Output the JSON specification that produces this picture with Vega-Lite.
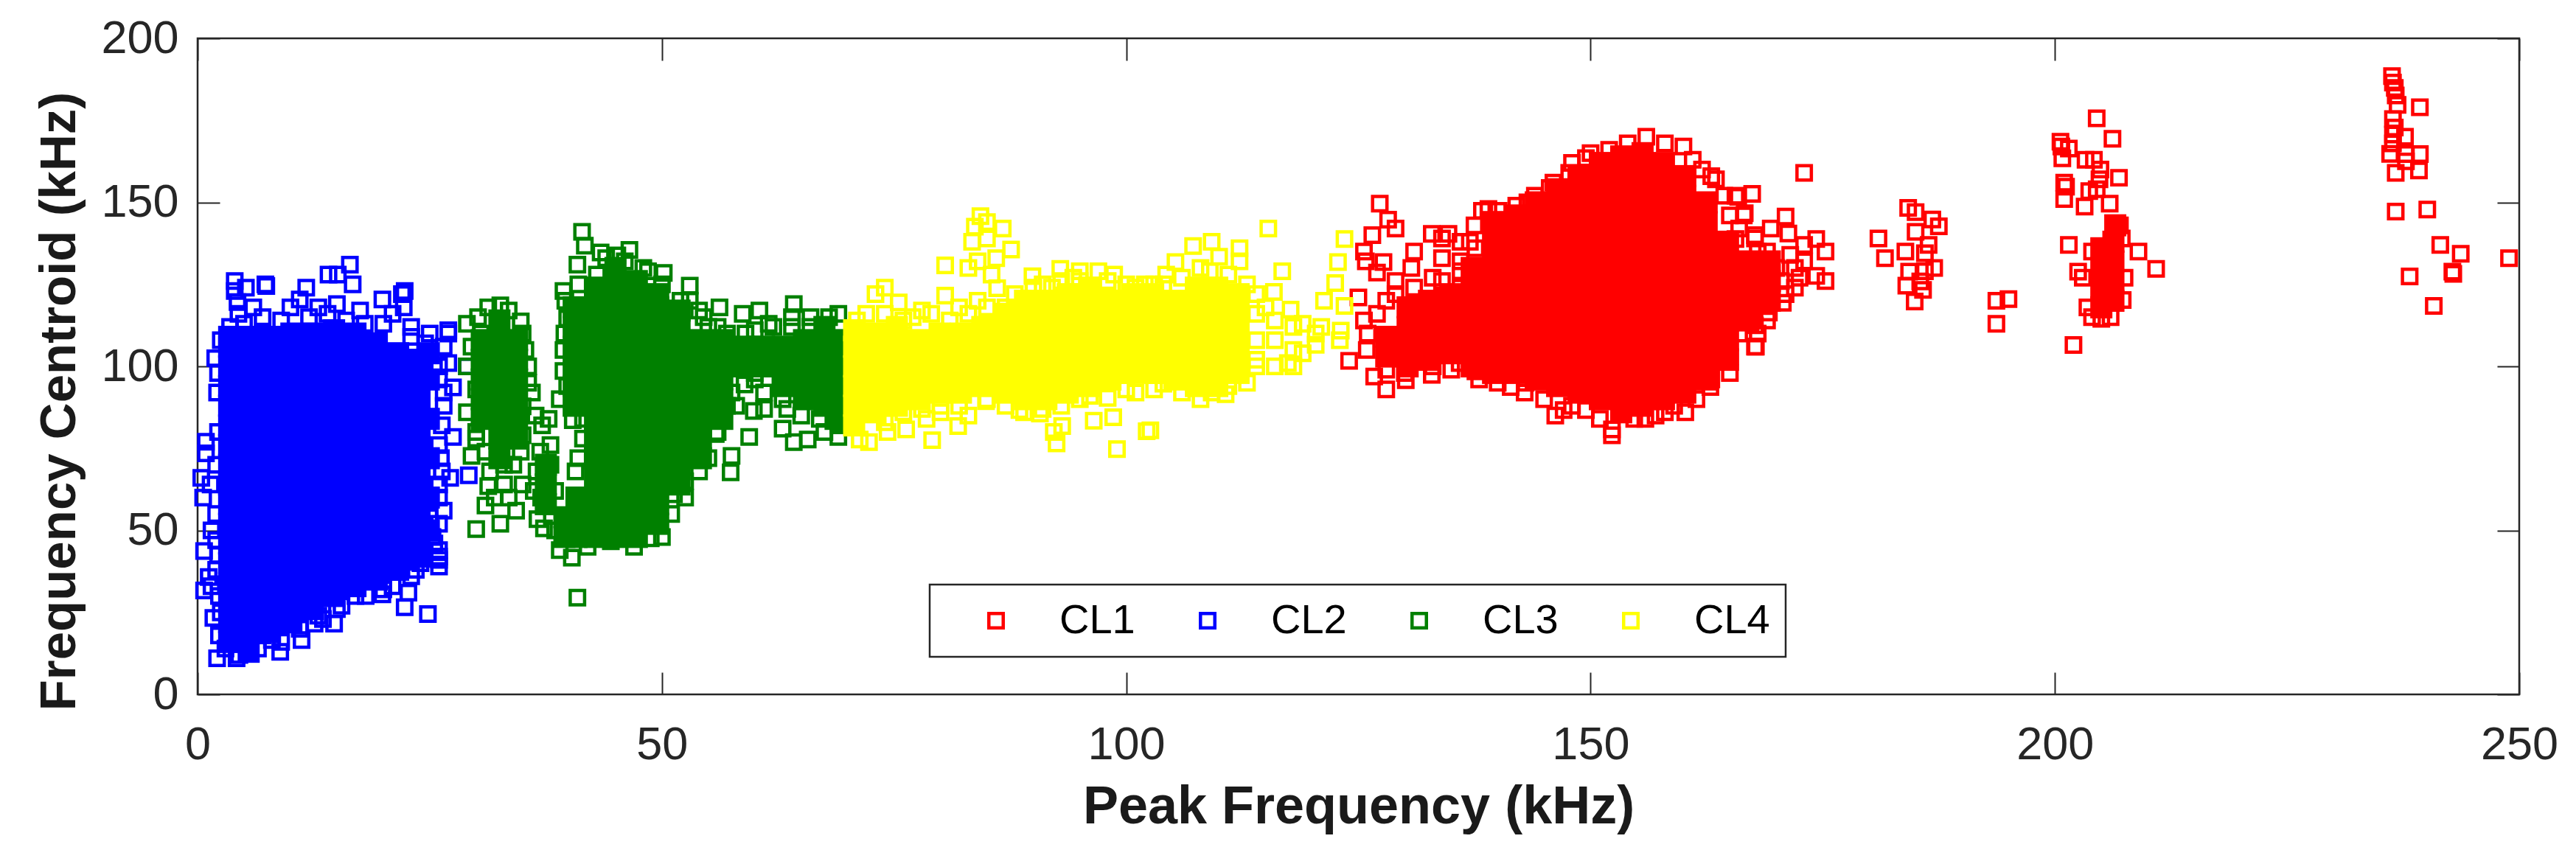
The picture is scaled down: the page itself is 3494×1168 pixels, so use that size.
{"$schema":"https://vega.github.io/schema/vega-lite/v6.json","width":3149,"height":890,"autosize":"none","padding":{"left":268,"top":52,"right":77,"bottom":226},"background":"white","config":{"font":"Liberation Sans","view":{"stroke":"#262626","strokeWidth":2.5},"legend":{"strokeWidth":2.5}},
"datasets":{
"r0":[{"x":128,"y":103},{"x":128,"y":109},{"x":130.3,"y":100},{"x":130.3,"y":106},{"x":130.3,"y":112},{"x":130.3,"y":118},{"x":132.6,"y":102},{"x":132.6,"y":108},{"x":132.6,"y":114},{"x":132.6,"y":120},{"x":134.9,"y":104},{"x":134.9,"y":110},{"x":134.9,"y":116},{"x":134.9,"y":122},{"x":137.2,"y":100},{"x":137.2,"y":106},{"x":137.2,"y":112},{"x":137.2,"y":118},{"x":137.2,"y":124},{"x":137.2,"y":130},{"x":139.5,"y":98},{"x":139.5,"y":104},{"x":139.5,"y":110},{"x":139.5,"y":116},{"x":139.5,"y":122},{"x":139.5,"y":128},{"x":139.5,"y":134},{"x":139.5,"y":140},{"x":139.5,"y":144},{"x":141.8,"y":98},{"x":141.8,"y":104},{"x":141.8,"y":110},{"x":141.8,"y":116},{"x":141.8,"y":122},{"x":141.8,"y":128},{"x":141.8,"y":134},{"x":141.8,"y":140},{"x":141.8,"y":146},{"x":144.1,"y":96},{"x":144.1,"y":102},{"x":144.1,"y":108},{"x":144.1,"y":114},{"x":144.1,"y":120},{"x":144.1,"y":126},{"x":144.1,"y":132},{"x":144.1,"y":138},{"x":144.1,"y":144},{"x":144.1,"y":150},{"x":146.4,"y":94},{"x":146.4,"y":100},{"x":146.4,"y":106},{"x":146.4,"y":112},{"x":146.4,"y":118},{"x":146.4,"y":124},{"x":146.4,"y":130},{"x":146.4,"y":136},{"x":146.4,"y":142},{"x":146.4,"y":148},{"x":146.4,"y":154},{"x":148.7,"y":92},{"x":148.7,"y":98},{"x":148.7,"y":104},{"x":148.7,"y":110},{"x":148.7,"y":116},{"x":148.7,"y":122},{"x":148.7,"y":128},{"x":148.7,"y":134},{"x":148.7,"y":140},{"x":148.7,"y":146},{"x":148.7,"y":152},{"x":148.7,"y":158},{"x":151,"y":90},{"x":151,"y":96},{"x":151,"y":102},{"x":151,"y":108},{"x":151,"y":114},{"x":151,"y":120},{"x":151,"y":126},{"x":151,"y":132},{"x":151,"y":138},{"x":151,"y":144},{"x":151,"y":150},{"x":151,"y":156},{"x":151,"y":162},{"x":153.3,"y":86},{"x":153.3,"y":92},{"x":153.3,"y":98},{"x":153.3,"y":104},{"x":153.3,"y":110},{"x":153.3,"y":116},{"x":153.3,"y":122},{"x":153.3,"y":128},{"x":153.3,"y":134},{"x":153.3,"y":140},{"x":153.3,"y":146},{"x":153.3,"y":152},{"x":153.3,"y":158},{"x":153.3,"y":164},{"x":155.6,"y":88},{"x":155.6,"y":94},{"x":155.6,"y":100},{"x":155.6,"y":106},{"x":155.6,"y":112},{"x":155.6,"y":118},{"x":155.6,"y":124},{"x":155.6,"y":130},{"x":155.6,"y":136},{"x":155.6,"y":142},{"x":155.6,"y":148},{"x":155.6,"y":154},{"x":155.6,"y":160},{"x":155.6,"y":165},{"x":157.9,"y":90},{"x":157.9,"y":96},{"x":157.9,"y":102},{"x":157.9,"y":108},{"x":157.9,"y":114},{"x":157.9,"y":120},{"x":157.9,"y":126},{"x":157.9,"y":132},{"x":157.9,"y":138},{"x":157.9,"y":144},{"x":157.9,"y":150},{"x":157.9,"y":156},{"x":157.9,"y":162},{"x":160.2,"y":92},{"x":160.2,"y":98},{"x":160.2,"y":104},{"x":160.2,"y":110},{"x":160.2,"y":116},{"x":160.2,"y":122},{"x":160.2,"y":128},{"x":160.2,"y":134},{"x":160.2,"y":140},{"x":160.2,"y":146},{"x":160.2,"y":152},{"x":160.2,"y":158},{"x":162.5,"y":96},{"x":162.5,"y":102},{"x":162.5,"y":108},{"x":162.5,"y":114},{"x":162.5,"y":120},{"x":162.5,"y":126},{"x":162.5,"y":132},{"x":162.5,"y":138},{"x":162.5,"y":144},{"x":162.5,"y":150},{"x":164.8,"y":102},{"x":164.8,"y":108},{"x":164.8,"y":114},{"x":164.8,"y":120},{"x":164.8,"y":126},{"x":164.8,"y":132},{"x":164.8,"y":138},{"x":167,"y":114},{"x":167,"y":120},{"x":167,"y":126},{"x":167,"y":132},{"x":169.3,"y":120},{"x":169.3,"y":126},{"x":169.3,"y":132},{"x":205,"y":118},{"x":205,"y":124},{"x":205,"y":130},{"x":205,"y":136},{"x":206.3,"y":120},{"x":206.3,"y":126},{"x":206.3,"y":132},{"x":206.3,"y":138},{"x":206.5,"y":143}],
"r1":[{"x":127.3,"y":149.6},{"x":128.2,"y":144.7},{"x":129,"y":142},{"x":126.5,"y":140},{"x":125.6,"y":135},{"x":125.8,"y":132},{"x":132.9,"y":140.4},{"x":134.7,"y":140.4},{"x":136,"y":138},{"x":134,"y":139},{"x":131,"y":135},{"x":134,"y":133},{"x":127.7,"y":131.8},{"x":130.7,"y":130},{"x":127,"y":128.6},{"x":129,"y":126},{"x":133,"y":127},{"x":136,"y":129},{"x":125,"y":121},{"x":128,"y":120},{"x":125.6,"y":114},{"x":125.9,"y":105},{"x":124,"y":101.7},{"x":126.7,"y":96.9},{"x":128,"y":93},{"x":130.1,"y":95.8},{"x":132.9,"y":97.4},{"x":135.9,"y":101},{"x":137.6,"y":98.5},{"x":141.4,"y":93.7},{"x":142.9,"y":92},{"x":146.2,"y":85},{"x":147.1,"y":86.7},{"x":149.5,"y":86.7},{"x":152.3,"y":80.8},{"x":152.3,"y":79},{"x":154.7,"y":84},{"x":155.9,"y":84},{"x":160.2,"y":86},{"x":161.4,"y":90},{"x":162.9,"y":93.7},{"x":164.7,"y":102.8},{"x":167.7,"y":106},{"x":166.5,"y":146},{"x":164.4,"y":152},{"x":165.6,"y":152},{"x":149.5,"y":163.5},{"x":147.7,"y":159},{"x":145.6,"y":154.4},{"x":143.2,"y":150},{"x":138.3,"y":147.4},{"x":140.1,"y":147.4},{"x":137.5,"y":143},{"x":137.6,"y":136},{"x":167.7,"y":140},{"x":165.6,"y":138.8},{"x":152,"y":166},{"x":154,"y":168},{"x":156,"y":170},{"x":158,"y":168},{"x":160,"y":167},{"x":162,"y":160},{"x":163.5,"y":157},{"x":150.5,"y":92},{"x":158,"y":86},{"x":173,"y":159},{"x":165.9,"y":151.7},{"x":167.4,"y":152.6},{"x":166.6,"y":146.7},{"x":171,"y":145.7},{"x":169.4,"y":142},{"x":167.7,"y":139},{"x":171.3,"y":140.5},{"x":174.3,"y":138.8},{"x":173,"y":137},{"x":175.3,"y":135},{"x":174.3,"y":127.6},{"x":175.3,"y":126},{"x":172,"y":130},{"x":170.7,"y":119.4},{"x":169.2,"y":116.4},{"x":167.7,"y":112.5},{"x":167.8,"y":106},{"x":165,"y":103},{"x":171.5,"y":134},{"x":172.5,"y":127},{"x":170.5,"y":126},{"x":169,"y":135},{"x":168,"y":110},{"x":166.5,"y":118},{"x":126,"y":110},{"x":127,"y":116},{"x":129,"y":122},{"x":131,"y":124},{"x":134,"y":126},{"x":136,"y":124},{"x":136,"y":132},{"x":137,"y":138},{"x":139,"y":148},{"x":142,"y":149},{"x":144,"y":152},{"x":146,"y":156},{"x":148,"y":162},{"x":150,"y":165},{"x":161,"y":163},{"x":163,"y":158},{"x":165,"y":146},{"x":166,"y":142},{"x":168,"y":135},{"x":170,"y":130},{"x":168,"y":120},{"x":169,"y":114},{"x":166,"y":110},{"x":165,"y":98},{"x":163,"y":96},{"x":159,"y":88},{"x":157,"y":85},{"x":151,"y":84},{"x":148,"y":88},{"x":145,"y":90},{"x":143,"y":95},{"x":140,"y":95},{"x":138,"y":96},{"x":135,"y":99},{"x":133,"y":100},{"x":130,"y":98},{"x":128,"y":99},{"x":172,"y":124},{"x":173,"y":132},{"x":171,"y":122},{"x":184.2,"y":148.3},{"x":185,"y":147},{"x":186.8,"y":144.8},{"x":187.5,"y":142.7},{"x":181,"y":139},{"x":181.7,"y":133},{"x":185,"y":141},{"x":186.4,"y":137},{"x":183.9,"y":135},{"x":186,"y":134.5},{"x":187,"y":130},{"x":184.3,"y":128.9},{"x":186,"y":129},{"x":184,"y":124.6},{"x":185.8,"y":123.3},{"x":184.9,"y":119.8},{"x":185.5,"y":125.9},{"x":193.7,"y":120},{"x":195,"y":120.5},{"x":193.7,"y":113},{"x":204.5,"y":175.6},{"x":206.2,"y":169.4},{"x":200.6,"y":168.5},{"x":200.7,"y":167},{"x":201.5,"y":166.4},{"x":200.8,"y":163.4},{"x":203.3,"y":163},{"x":204.2,"y":163},{"x":204.9,"y":160},{"x":206.9,"y":157.5},{"x":204.8,"y":157},{"x":201,"y":156},{"x":201.2,"y":154.8},{"x":203.7,"y":153.4},{"x":204.5,"y":154},{"x":201,"y":151},{"x":203.2,"y":148.7},{"x":205.9,"y":149.6},{"x":201.5,"y":137},{"x":210.9,"y":129.7},{"x":209,"y":135},{"x":202,"y":106.5},{"x":202.5,"y":128.9},{"x":207.3,"y":120.2},{"x":204,"y":115},{"x":205,"y":114.5},{"x":206,"y":115},{"x":203.5,"y":118},{"x":207,"y":143},{"x":207.2,"y":139},{"x":204,"y":135},{"x":203,"y":127},{"x":207.5,"y":127},{"x":236.3,"y":188.5},{"x":236.4,"y":186.5},{"x":236.6,"y":184.9},{"x":236.7,"y":182.6},{"x":236.9,"y":179.7},{"x":239.3,"y":179},{"x":236.4,"y":175.4},{"x":236.6,"y":172.8},{"x":236.4,"y":170.7},{"x":237.7,"y":170},{"x":236.4,"y":168},{"x":236.1,"y":164.8},{"x":237.8,"y":164.7},{"x":239.3,"y":164.7},{"x":237.8,"y":162.5},{"x":236.7,"y":159},{"x":239.2,"y":159.7},{"x":236.7,"y":147.2},{"x":240.1,"y":147.8},{"x":241.5,"y":137},{"x":243.7,"y":134.3},{"x":238.2,"y":127.4},{"x":242.8,"y":128.9},{"x":242.9,"y":128.2},{"x":240.8,"y":118.4},{"x":248.9,"y":133}],
"b0":[{"x":3.4,"y":16},{"x":3.4,"y":22},{"x":3.4,"y":28},{"x":3.4,"y":34},{"x":3.4,"y":40},{"x":3.4,"y":46},{"x":3.4,"y":52},{"x":3.4,"y":58},{"x":3.4,"y":64},{"x":3.4,"y":70},{"x":3.4,"y":76},{"x":3.4,"y":82},{"x":3.4,"y":88},{"x":3.4,"y":94},{"x":3.4,"y":100},{"x":3.4,"y":106},{"x":3.4,"y":109},{"x":5.5,"y":13},{"x":5.5,"y":19},{"x":5.5,"y":25},{"x":5.5,"y":31},{"x":5.5,"y":37},{"x":5.5,"y":43},{"x":5.5,"y":49},{"x":5.5,"y":55},{"x":5.5,"y":61},{"x":5.5,"y":67},{"x":5.5,"y":73},{"x":5.5,"y":79},{"x":5.5,"y":85},{"x":5.5,"y":91},{"x":5.5,"y":97},{"x":5.5,"y":103},{"x":5.5,"y":109},{"x":7.8,"y":19},{"x":7.8,"y":25},{"x":7.8,"y":31},{"x":7.8,"y":37},{"x":7.8,"y":43},{"x":7.8,"y":49},{"x":7.8,"y":55},{"x":7.8,"y":61},{"x":7.8,"y":67},{"x":7.8,"y":73},{"x":7.8,"y":79},{"x":7.8,"y":85},{"x":7.8,"y":91},{"x":7.8,"y":97},{"x":7.8,"y":103},{"x":7.8,"y":109},{"x":10.1,"y":22},{"x":10.1,"y":28},{"x":10.1,"y":34},{"x":10.1,"y":40},{"x":10.1,"y":46},{"x":10.1,"y":52},{"x":10.1,"y":58},{"x":10.1,"y":64},{"x":10.1,"y":70},{"x":10.1,"y":76},{"x":10.1,"y":82},{"x":10.1,"y":88},{"x":10.1,"y":94},{"x":10.1,"y":100},{"x":10.1,"y":106},{"x":10.1,"y":110},{"x":12.4,"y":26},{"x":12.4,"y":32},{"x":12.4,"y":38},{"x":12.4,"y":44},{"x":12.4,"y":50},{"x":12.4,"y":56},{"x":12.4,"y":62},{"x":12.4,"y":68},{"x":12.4,"y":74},{"x":12.4,"y":80},{"x":12.4,"y":86},{"x":12.4,"y":92},{"x":12.4,"y":98},{"x":12.4,"y":104},{"x":12.4,"y":110},{"x":14.7,"y":30},{"x":14.7,"y":36},{"x":14.7,"y":42},{"x":14.7,"y":48},{"x":14.7,"y":54},{"x":14.7,"y":60},{"x":14.7,"y":66},{"x":14.7,"y":72},{"x":14.7,"y":78},{"x":14.7,"y":84},{"x":14.7,"y":90},{"x":14.7,"y":96},{"x":14.7,"y":102},{"x":14.7,"y":108},{"x":14.7,"y":111},{"x":17,"y":33},{"x":17,"y":39},{"x":17,"y":45},{"x":17,"y":51},{"x":17,"y":57},{"x":17,"y":63},{"x":17,"y":69},{"x":17,"y":75},{"x":17,"y":81},{"x":17,"y":87},{"x":17,"y":93},{"x":17,"y":99},{"x":17,"y":105},{"x":17,"y":110},{"x":19.3,"y":35},{"x":19.3,"y":41},{"x":19.3,"y":47},{"x":19.3,"y":53},{"x":19.3,"y":59},{"x":19.3,"y":65},{"x":19.3,"y":71},{"x":19.3,"y":77},{"x":19.3,"y":83},{"x":19.3,"y":89},{"x":19.3,"y":95},{"x":19.3,"y":101},{"x":19.3,"y":107},{"x":21.6,"y":38},{"x":21.6,"y":44},{"x":21.6,"y":50},{"x":21.6,"y":56},{"x":21.6,"y":62},{"x":21.6,"y":68},{"x":21.6,"y":74},{"x":21.6,"y":80},{"x":21.6,"y":86},{"x":21.6,"y":92},{"x":21.6,"y":98},{"x":21.6,"y":104},{"x":23.9,"y":42},{"x":23.9,"y":48},{"x":23.9,"y":54},{"x":23.9,"y":60},{"x":23.9,"y":66},{"x":23.9,"y":72},{"x":23.9,"y":78},{"x":23.9,"y":84},{"x":23.9,"y":90},{"x":23.9,"y":96},{"x":23.9,"y":102},{"x":24.9,"y":50},{"x":24.9,"y":60},{"x":24.9,"y":72},{"x":24.9,"y":84},{"x":24.9,"y":96},{"x":24.9,"y":104}],
"b1":[{"x":4,"y":126},{"x":4,"y":123},{"x":4.3,"y":119.6},{"x":5.2,"y":124},{"x":7.3,"y":125},{"x":7.4,"y":124.5},{"x":4.4,"y":116},{"x":6,"y":118},{"x":11.7,"y":124},{"x":14.1,"y":128},{"x":15.1,"y":128},{"x":16.4,"y":131},{"x":16.7,"y":125},{"x":10,"y":118},{"x":11,"y":120.4},{"x":13,"y":118},{"x":15,"y":119},{"x":17.5,"y":117},{"x":19.9,"y":120.4},{"x":22,"y":122},{"x":22.3,"y":123},{"x":22.2,"y":118},{"x":21,"y":116},{"x":23,"y":112},{"x":25,"y":110},{"x":27,"y":111},{"x":27,"y":110},{"x":26.5,"y":106},{"x":29,"y":100},{"x":27,"y":101},{"x":1.9,"y":102.5},{"x":2.1,"y":92},{"x":27.5,"y":93.6},{"x":26.5,"y":88},{"x":26.3,"y":82},{"x":27.5,"y":78.5},{"x":26.2,"y":72},{"x":27.2,"y":66},{"x":29.2,"y":66.8},{"x":0.9,"y":77},{"x":0.9,"y":73.5},{"x":0.4,"y":66},{"x":0.6,"y":60},{"x":1.4,"y":64},{"x":1.5,"y":50},{"x":0.7,"y":43.7},{"x":2.2,"y":42.5},{"x":1.2,"y":35.8},{"x":0.7,"y":31.7},{"x":1.5,"y":33},{"x":1.7,"y":23.3},{"x":2.3,"y":18},{"x":2.1,"y":11},{"x":4.2,"y":11},{"x":4.5,"y":12},{"x":8.9,"y":13},{"x":8,"y":16.6},{"x":7,"y":18},{"x":11.2,"y":16.6},{"x":12.6,"y":21.6},{"x":14.7,"y":21.6},{"x":13.5,"y":23},{"x":15,"y":26},{"x":18.1,"y":30},{"x":22.3,"y":26.6},{"x":24.8,"y":24.5},{"x":22.7,"y":31},{"x":19.9,"y":30.5},{"x":21,"y":33},{"x":23.5,"y":38},{"x":26,"y":44},{"x":26,"y":41},{"x":26,"y":39},{"x":26,"y":42},{"x":26.5,"y":56},{"x":26,"y":60},{"x":25,"y":54},{"x":25.3,"y":48},{"x":26,"y":96},{"x":26,"y":100},{"x":26.5,"y":92},{"x":26,"y":76},{"x":26.3,"y":68},{"x":26,"y":64},{"x":26,"y":52},{"x":25.5,"y":46},{"x":24,"y":40},{"x":23,"y":36},{"x":20,"y":32},{"x":17,"y":30},{"x":15.5,"y":27},{"x":13,"y":24},{"x":11,"y":20},{"x":9,"y":16},{"x":6.5,"y":14},{"x":3,"y":14},{"x":2.5,"y":25},{"x":2.3,"y":30},{"x":2,"y":38},{"x":2,"y":47},{"x":2,"y":55},{"x":2,"y":70},{"x":2.2,"y":80},{"x":2.2,"y":98},{"x":5,"y":113},{"x":7,"y":115},{"x":9,"y":114},{"x":12,"y":115},{"x":14,"y":116},{"x":16,"y":114},{"x":18,"y":113},{"x":20,"y":113},{"x":23,"y":109},{"x":24.5,"y":107},{"x":3.5,"y":112},{"x":2.5,"y":108}],
"g0":[{"x":30.6,"y":84},{"x":30.6,"y":90},{"x":30.6,"y":96},{"x":30.6,"y":102},{"x":30.6,"y":108},{"x":32.5,"y":72},{"x":32.5,"y":78},{"x":32.5,"y":84},{"x":32.5,"y":90},{"x":32.5,"y":96},{"x":32.5,"y":102},{"x":32.5,"y":108},{"x":32.5,"y":114},{"x":34.4,"y":78},{"x":34.4,"y":84},{"x":34.4,"y":90},{"x":34.4,"y":96},{"x":34.4,"y":102},{"x":34.4,"y":108},{"x":37.5,"y":58},{"x":37.5,"y":64},{"x":37.5,"y":70},{"x":39.5,"y":48},{"x":39.5,"y":54},{"x":40.5,"y":88},{"x":40.5,"y":94},{"x":40.5,"y":100},{"x":40.5,"y":106},{"x":40.5,"y":112},{"x":40.5,"y":118},{"x":40.8,"y":48},{"x":40.8,"y":54},{"x":40.8,"y":60},{"x":42.8,"y":48},{"x":42.8,"y":54},{"x":42.8,"y":60},{"x":42.8,"y":66},{"x":42.8,"y":72},{"x":42.8,"y":78},{"x":42.8,"y":84},{"x":42.8,"y":90},{"x":42.8,"y":96},{"x":42.8,"y":102},{"x":42.8,"y":108},{"x":42.8,"y":114},{"x":42.8,"y":120},{"x":42.8,"y":124},{"x":45,"y":48},{"x":45,"y":54},{"x":45,"y":60},{"x":45,"y":66},{"x":45,"y":72},{"x":45,"y":78},{"x":45,"y":84},{"x":45,"y":90},{"x":45,"y":96},{"x":45,"y":102},{"x":45,"y":108},{"x":45,"y":114},{"x":45,"y":120},{"x":45,"y":126},{"x":45,"y":130},{"x":47.3,"y":48},{"x":47.3,"y":54},{"x":47.3,"y":60},{"x":47.3,"y":66},{"x":47.3,"y":72},{"x":47.3,"y":78},{"x":47.3,"y":84},{"x":47.3,"y":90},{"x":47.3,"y":96},{"x":47.3,"y":102},{"x":47.3,"y":108},{"x":47.3,"y":114},{"x":47.3,"y":120},{"x":47.3,"y":126},{"x":49.6,"y":52},{"x":49.6,"y":58},{"x":49.6,"y":64},{"x":49.6,"y":70},{"x":49.6,"y":76},{"x":49.6,"y":82},{"x":49.6,"y":88},{"x":49.6,"y":94},{"x":49.6,"y":100},{"x":49.6,"y":106},{"x":49.6,"y":112},{"x":49.6,"y":118},{"x":49.6,"y":122},{"x":51.9,"y":64},{"x":51.9,"y":70},{"x":51.9,"y":76},{"x":51.9,"y":82},{"x":51.9,"y":88},{"x":51.9,"y":94},{"x":51.9,"y":100},{"x":51.9,"y":106},{"x":51.9,"y":112},{"x":51.9,"y":117},{"x":54.2,"y":72},{"x":54.2,"y":78},{"x":54.2,"y":84},{"x":54.2,"y":90},{"x":54.2,"y":96},{"x":54.2,"y":102},{"x":54.2,"y":108},{"x":56.5,"y":84},{"x":56.5,"y":90},{"x":56.5,"y":96},{"x":56.5,"y":102},{"x":56.5,"y":108},{"x":58.8,"y":100},{"x":58.8,"y":106},{"x":61,"y":100},{"x":61,"y":106},{"x":63,"y":94},{"x":63,"y":100},{"x":63,"y":106},{"x":65.3,"y":90},{"x":65.3,"y":96},{"x":65.3,"y":102},{"x":65.3,"y":108},{"x":67.5,"y":88},{"x":67.5,"y":94},{"x":67.5,"y":100},{"x":67.5,"y":106},{"x":67.5,"y":112},{"x":68.7,"y":84},{"x":68.7,"y":90},{"x":68.7,"y":96},{"x":68.7,"y":102},{"x":68.7,"y":108}],
"g1":[{"x":41.4,"y":141},{"x":41.7,"y":136.8},{"x":43.4,"y":134.7},{"x":45.2,"y":133.8},{"x":46.5,"y":135.5},{"x":44,"y":133},{"x":40.9,"y":131},{"x":50.2,"y":128.5},{"x":48.5,"y":129},{"x":53,"y":124.6},{"x":53,"y":120},{"x":56.2,"y":118},{"x":54.5,"y":115},{"x":58.7,"y":116},{"x":60.5,"y":117},{"x":61.5,"y":113},{"x":64.2,"y":119},{"x":66,"y":115},{"x":69,"y":116},{"x":68,"y":115},{"x":39.4,"y":123},{"x":39.6,"y":120},{"x":39.8,"y":114.6},{"x":39.4,"y":105},{"x":39.4,"y":98.6},{"x":40.4,"y":83.6},{"x":40.7,"y":68},{"x":59.4,"y":78.5},{"x":57.4,"y":67.7},{"x":57.5,"y":72.7},{"x":55.8,"y":79.4},{"x":55,"y":72},{"x":63,"y":81},{"x":64.2,"y":76.9},{"x":65.7,"y":77.7},{"x":69,"y":78.5},{"x":67.5,"y":80},{"x":59.9,"y":86.4},{"x":61,"y":87},{"x":58,"y":88},{"x":63.5,"y":87},{"x":51.3,"y":61},{"x":52.5,"y":65},{"x":49.3,"y":51.8},{"x":48.8,"y":47.6},{"x":44.5,"y":46.7},{"x":40.3,"y":41.7},{"x":40.9,"y":29.5},{"x":38.5,"y":50},{"x":30,"y":50.4},{"x":32.6,"y":52},{"x":34.3,"y":56},{"x":36.6,"y":53.4},{"x":37.3,"y":50.6},{"x":29,"y":113},{"x":31.3,"y":118},{"x":32.6,"y":118.6},{"x":33.5,"y":117},{"x":30.2,"y":115},{"x":34.8,"y":113.7},{"x":35.6,"y":100},{"x":35.6,"y":95},{"x":35.3,"y":105},{"x":29,"y":86},{"x":29,"y":100},{"x":29.5,"y":106},{"x":29.5,"y":72.7},{"x":30,"y":78},{"x":35,"y":87.8},{"x":36.4,"y":85},{"x":37.1,"y":82},{"x":36.9,"y":74},{"x":34.8,"y":74},{"x":31,"y":57.6},{"x":31.3,"y":63.5},{"x":33,"y":64},{"x":35,"y":64},{"x":31.5,"y":68},{"x":33.5,"y":60},{"x":36.2,"y":62},{"x":36.5,"y":68},{"x":38,"y":76},{"x":58.9,"y":94.5},{"x":60,"y":96},{"x":57.5,"y":92},{"x":56,"y":112},{"x":30,"y":80},{"x":30,"y":93},{"x":30.5,"y":110},{"x":35,"y":110},{"x":36,"y":92},{"x":31,"y":74},{"x":33,"y":70},{"x":35,"y":79},{"x":32,"y":60},{"x":34,"y":70},{"x":37.8,"y":84},{"x":38,"y":70},{"x":37,"y":60},{"x":38.5,"y":62},{"x":41,"y":72},{"x":41.5,"y":78},{"x":41.5,"y":84},{"x":39.5,"y":110},{"x":39,"y":90},{"x":39.8,"y":94},{"x":41,"y":125},{"x":43,"y":128},{"x":46,"y":132},{"x":48,"y":130},{"x":50,"y":125},{"x":52,"y":120},{"x":54,"y":117},{"x":55,"y":112},{"x":57,"y":110},{"x":59,"y":110},{"x":60,"y":111},{"x":62,"y":112},{"x":64,"y":112},{"x":66,"y":112},{"x":57,"y":88},{"x":56,"y":80},{"x":54,"y":68},{"x":52.5,"y":60},{"x":51,"y":55},{"x":50,"y":48},{"x":47,"y":45},{"x":42,"y":45},{"x":39,"y":44},{"x":63,"y":90},{"x":65,"y":85},{"x":67,"y":84},{"x":69,"y":82},{"x":60,"y":98},{"x":61,"y":92},{"x":59,"y":103},{"x":64,"y":115}],
"y0":[{"x":70.7,"y":82},{"x":70.7,"y":88},{"x":70.7,"y":94},{"x":70.7,"y":100},{"x":70.7,"y":106},{"x":70.7,"y":111},{"x":73,"y":86},{"x":73,"y":92},{"x":73,"y":98},{"x":73,"y":104},{"x":73,"y":110},{"x":75.3,"y":88},{"x":75.3,"y":94},{"x":75.3,"y":100},{"x":75.3,"y":106},{"x":75.3,"y":112},{"x":77.6,"y":90},{"x":77.6,"y":96},{"x":77.6,"y":102},{"x":77.6,"y":108},{"x":79.9,"y":92},{"x":79.9,"y":98},{"x":79.9,"y":104},{"x":79.9,"y":110},{"x":82.2,"y":92},{"x":82.2,"y":98},{"x":82.2,"y":104},{"x":82.2,"y":110},{"x":84.5,"y":94},{"x":84.5,"y":100},{"x":84.5,"y":106},{"x":84.5,"y":112},{"x":86.8,"y":92},{"x":86.8,"y":98},{"x":86.8,"y":104},{"x":86.8,"y":110},{"x":86.8,"y":116},{"x":89.1,"y":90},{"x":89.1,"y":96},{"x":89.1,"y":102},{"x":89.1,"y":108},{"x":89.1,"y":114},{"x":89.1,"y":120},{"x":91.4,"y":90},{"x":91.4,"y":96},{"x":91.4,"y":102},{"x":91.4,"y":108},{"x":91.4,"y":114},{"x":91.4,"y":120},{"x":93.7,"y":92},{"x":93.7,"y":98},{"x":93.7,"y":104},{"x":93.7,"y":110},{"x":93.7,"y":116},{"x":93.7,"y":122},{"x":96,"y":94},{"x":96,"y":100},{"x":96,"y":106},{"x":96,"y":112},{"x":96,"y":118},{"x":96,"y":124},{"x":98.3,"y":96},{"x":98.3,"y":102},{"x":98.3,"y":108},{"x":98.3,"y":114},{"x":98.3,"y":120},{"x":100.6,"y":98},{"x":100.6,"y":104},{"x":100.6,"y":110},{"x":100.6,"y":116},{"x":100.6,"y":122},{"x":102.9,"y":98},{"x":102.9,"y":104},{"x":102.9,"y":110},{"x":102.9,"y":116},{"x":102.9,"y":122},{"x":105.2,"y":96},{"x":105.2,"y":102},{"x":105.2,"y":108},{"x":105.2,"y":114},{"x":105.2,"y":120},{"x":107.5,"y":94},{"x":107.5,"y":100},{"x":107.5,"y":106},{"x":107.5,"y":112},{"x":107.5,"y":118},{"x":107.5,"y":124},{"x":109.8,"y":94},{"x":109.8,"y":100},{"x":109.8,"y":106},{"x":109.8,"y":112},{"x":109.8,"y":118},{"x":109.8,"y":124},{"x":112.1,"y":98},{"x":112.1,"y":104},{"x":112.1,"y":110},{"x":112.1,"y":116},{"x":112.1,"y":122}],
"y1":[{"x":84.3,"y":145.8},{"x":85,"y":144},{"x":83.7,"y":142.6},{"x":86.7,"y":142},{"x":83.4,"y":138},{"x":85,"y":139},{"x":87.6,"y":135.6},{"x":86,"y":133},{"x":80.5,"y":130.8},{"x":84,"y":132},{"x":85.5,"y":128},{"x":80.5,"y":121.6},{"x":83,"y":130},{"x":86.1,"y":123.8},{"x":84,"y":120},{"x":82,"y":118},{"x":78,"y":117},{"x":89.9,"y":127.5},{"x":92.9,"y":129.7},{"x":94.3,"y":127},{"x":97,"y":129},{"x":98.7,"y":128},{"x":101,"y":124},{"x":104.3,"y":128},{"x":105.3,"y":131.8},{"x":107.2,"y":136.7},{"x":109.2,"y":138},{"x":112.2,"y":136},{"x":112.2,"y":132},{"x":110,"y":133.4},{"x":108,"y":130},{"x":115.3,"y":142},{"x":116.8,"y":129},{"x":115.9,"y":122.7},{"x":114,"y":116},{"x":114,"y":108},{"x":114,"y":102},{"x":116,"y":114},{"x":116,"y":108},{"x":118,"y":112},{"x":118,"y":105},{"x":123.5,"y":138.8},{"x":122.8,"y":131.8},{"x":122.5,"y":125.4},{"x":123.5,"y":118.4},{"x":121.3,"y":120},{"x":123.1,"y":110.9},{"x":123,"y":108},{"x":120.4,"y":106.6},{"x":117.4,"y":101},{"x":114,"y":100},{"x":120.4,"y":110},{"x":117.7,"y":117.3},{"x":110.7,"y":91.5},{"x":109.2,"y":92},{"x":104,"y":94.7},{"x":101,"y":92},{"x":96.1,"y":91},{"x":98,"y":90.4},{"x":96.5,"y":83.4},{"x":98.6,"y":84.5},{"x":102.2,"y":80.2},{"x":102.6,"y":80.5},{"x":99,"y":74.8},{"x":92.5,"y":76.5},{"x":92.2,"y":80},{"x":93.1,"y":81.8},{"x":88.5,"y":86.7},{"x":90.7,"y":85.6},{"x":81.9,"y":81.8},{"x":79.1,"y":77.5},{"x":78.5,"y":84},{"x":80,"y":86},{"x":76.3,"y":80.8},{"x":74.3,"y":80},{"x":84.9,"y":89.4},{"x":74,"y":124},{"x":75.5,"y":119.5},{"x":73,"y":122},{"x":72,"y":116},{"x":71.3,"y":77.7},{"x":72.3,"y":76.9},{"x":77,"y":115},{"x":87,"y":118},{"x":92,"y":124},{"x":95,"y":129},{"x":103,"y":125},{"x":71,"y":114},{"x":74,"y":116},{"x":76,"y":114},{"x":79,"y":116},{"x":81,"y":114},{"x":83,"y":116},{"x":85,"y":118},{"x":88,"y":122},{"x":90,"y":124},{"x":91,"y":125},{"x":93,"y":126},{"x":95,"y":126},{"x":98,"y":126},{"x":100,"y":125},{"x":102,"y":125},{"x":104,"y":125},{"x":106,"y":127},{"x":109,"y":129},{"x":111,"y":128},{"x":113,"y":125},{"x":114,"y":122},{"x":74,"y":83},{"x":76,"y":86},{"x":78,"y":87},{"x":80,"y":88},{"x":82,"y":88},{"x":83,"y":85},{"x":85,"y":90},{"x":87,"y":88},{"x":89,"y":86},{"x":91,"y":87},{"x":93,"y":88},{"x":95,"y":90},{"x":100,"y":93},{"x":103,"y":93},{"x":106,"y":92},{"x":108,"y":90},{"x":111,"y":94},{"x":113,"y":95},{"x":116,"y":100},{"x":118,"y":100},{"x":119,"y":104},{"x":121,"y":112},{"x":119,"y":113},{"x":115,"y":118}]
},
"resolve":{"axis":{"x":"independent","y":"independent"}},
"encoding":{"x":{"field":"x","type":"quantitative","scale":{"domain":[0,250],"nice":false},"axis":null},"y":{"field":"y","type":"quantitative","scale":{"domain":[0,200],"nice":false},"axis":null}},
"layer":[
{"data":{"name":"r0"},"mark":{"type":"point","shape":"square","filled":true,"size":900,"opacity":1,"fill":"#ff0000"}},
{"data":{"name":"r1"},"mark":{"type":"point","shape":"square","filled":false,"size":380,"strokeWidth":4.5,"opacity":1},"encoding":{"stroke":{"datum":"CL1","scale":{"domain":["CL1","CL2","CL3","CL4"],"range":["#ff0000","#0000ff","#008000","#ffff00"]},"legend":{"orient":"none","legendX":993,"legendY":741,"direction":"horizontal","columns":4,"title":null,"padding":21,"strokeColor":"#262626","fillColor":"white","symbolType":"square","symbolSize":380,"symbolStrokeWidth":4.5,"symbolOffset":41,"labelOffset":58,"labelFontSize":56,"labelColor":"#000000","columnPadding":29}}}},
{"data":{"name":"b0"},"mark":{"type":"point","shape":"square","filled":true,"size":900,"opacity":1,"fill":"#0000ff"}},
{"data":{"name":"b1"},"mark":{"type":"point","shape":"square","filled":false,"size":380,"strokeWidth":4.5,"opacity":1},"encoding":{"stroke":{"datum":"CL2"}}},
{"data":{"name":"g0"},"mark":{"type":"point","shape":"square","filled":true,"size":900,"opacity":1,"fill":"#008000"}},
{"data":{"name":"g1"},"mark":{"type":"point","shape":"square","filled":false,"size":380,"strokeWidth":4.5,"opacity":1},"encoding":{"stroke":{"datum":"CL3"}}},
{"data":{"name":"y0"},"mark":{"type":"point","shape":"square","filled":true,"size":900,"opacity":1,"fill":"#ffff00"}},
{"data":{"name":"y1"},"mark":{"type":"point","shape":"square","filled":false,"size":380,"strokeWidth":4.5,"opacity":1},"encoding":{"stroke":{"datum":"CL4"}}},
{"data":{"values":[{"x":0,"y":0}]},"mark":{"type":"point","opacity":0},"encoding":{"x":{"field":"x","type":"quantitative","axis":{"values":[0,50,100,150,200,250],"grid":false,"tickSize":-30,"tickWidth":2,"tickColor":"#262626","domain":false,"labelFontSize":63,"labelColor":"#262626","labelPadding":67,"labelFlush":false,"title":"Peak Frequency (kHz)","titleFontSize":72,"titleFontWeight":"bold","titleColor":"#1a1a1a","titleBaseline":"middle","titleY":152}},"y":{"field":"y","type":"quantitative","axis":{"values":[0,50,100,150,200],"grid":false,"tickSize":-30,"tickWidth":2,"tickColor":"#262626","domain":false,"labelFontSize":63,"labelColor":"#262626","labelPadding":56,"labelFlush":false,"title":"Frequency Centroid (kHz)","titleFontSize":69,"titleFontWeight":"bold","titleColor":"#1a1a1a","titleBaseline":"middle","titleX":-188,"titleY":492}}}},
{"data":{"values":[{"x":0,"y":0}]},"mark":{"type":"point","opacity":0},"encoding":{"x":{"field":"x","type":"quantitative","axis":{"orient":"top","values":[0,50,100,150,200,250],"labels":false,"title":null,"grid":false,"domain":false,"tickSize":-30,"tickWidth":2,"tickColor":"#262626"}},"y":{"field":"y","type":"quantitative","axis":{"orient":"right","values":[0,50,100,150,200],"labels":false,"title":null,"grid":false,"domain":false,"tickSize":-30,"tickWidth":2,"tickColor":"#262626"}}}}
]}
